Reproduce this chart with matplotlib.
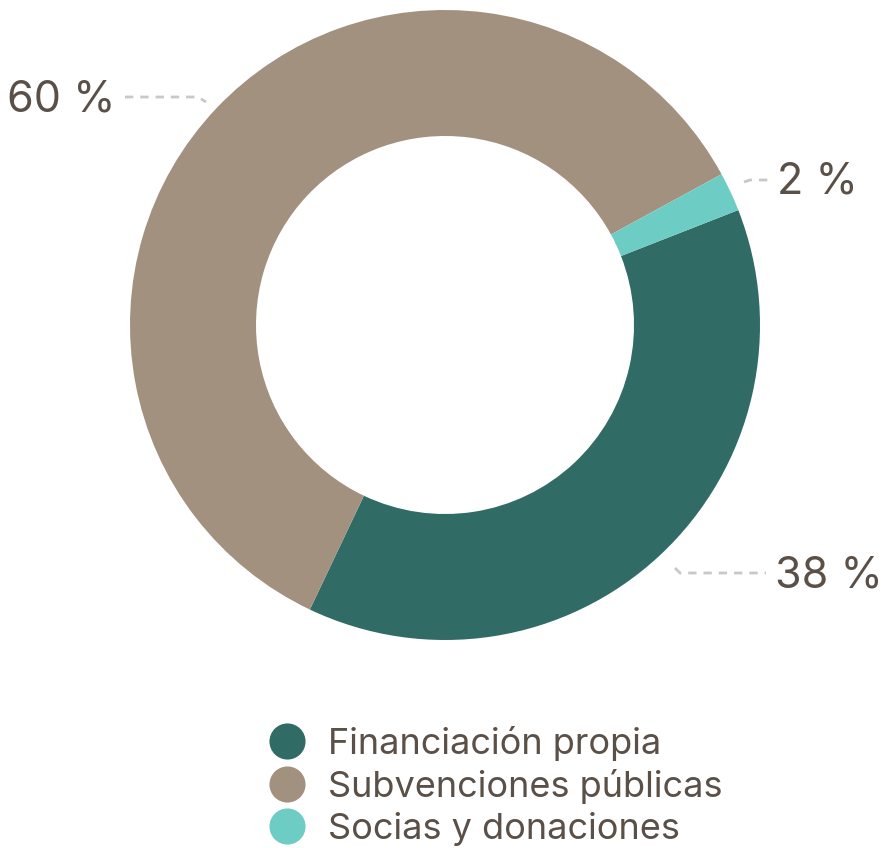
import matplotlib.pyplot as plt
from matplotlib.lines import Line2D

# --- data ---
LABELS = ["Financiación propia", "Subvenciones públicas", "Socias y donaciones"]
SHARES = [38, 60, 2]
COLORS = ["#306b66", "#a39180", "#6dcdc4"]
PCT_TEXT = ["38 %", "60 %", "2 %"]

TEXT_COLOR = "#5a5047"
LEADER_COLOR = "#c8c8c8"

plt.rcParams['font.family'] = ['Inter', 'DejaVu Sans']

W, H = 883, 848
fig = plt.figure(figsize=(W / 100, H / 100), dpi=100)
ax = fig.add_axes([0, 0, 1, 1])

cx, cy, r = 445, H - 325, 315
ax.pie(SHARES, colors=COLORS, startangle=21.4, counterclock=False,
       center=(cx, cy), radius=r, frame=True,
       wedgeprops=dict(width=r * 0.4, linewidth=0))
ax.set_xlim(0, W)
ax.set_ylim(0, H)
ax.set_aspect('equal')
ax.axis('off')

# label positions (pixel coords from the top) + dotted leader lines
label_pos = {
    "60 %": dict(xy=(7, 100), line=[(125, 97), (198, 97), (206, 102)]),
    "2 %": dict(xy=(777, 182), line=[(744, 182), (750, 180), (774, 180)]),
    "38 %": dict(xy=(775, 576), line=[(675, 568), (680, 573), (766, 573)]),
}
for txt in PCT_TEXT:
    p = label_pos[txt]
    x, y = p['xy']
    ax.text(x, H - y, txt, ha='left', va='center', fontsize=31, color=TEXT_COLOR)
    xs = [q[0] for q in p['line']]
    ys = [H - q[1] for q in p['line']]
    ax.plot(xs, ys, color=LEADER_COLOR, lw=2, ls=(0, (3, 2.5)))

handles = [Line2D([], [], marker='o', ls='none', markersize=26,
                  markerfacecolor=c, markeredgewidth=0) for c in COLORS]
ax.legend(handles, LABELS, loc='upper left', bbox_to_anchor=(269 / W, 1 - 726 / H),
          frameon=False, fontsize=26, labelcolor=TEXT_COLOR,
          handlelength=1.0, handletextpad=0.64, labelspacing=0.22,
          borderpad=0, borderaxespad=0)

fig.savefig("out.png", dpi=100)
